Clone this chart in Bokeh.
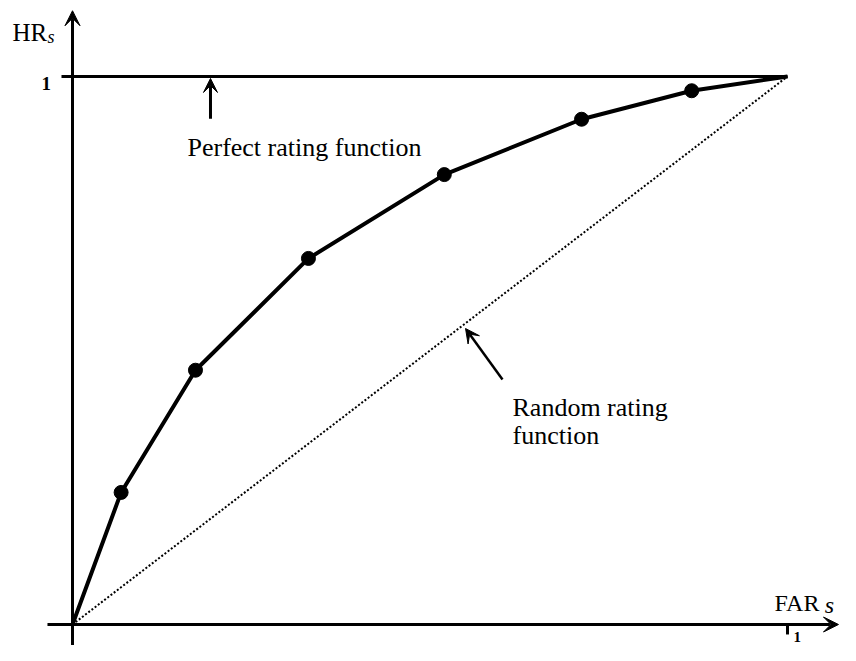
from bokeh.plotting import figure
from bokeh.models import Range1d, Label, Arrow, VeeHead, ColumnDataSource
from bokeh.embed import file_html
from bokeh.resources import INLINE

# ---- data ----
far_s = [0.0, 0.068, 0.172, 0.330, 0.520, 0.712, 0.866, 1.0]
hr_s = [0.0, 0.241, 0.464, 0.668, 0.821, 0.922, 0.974, 1.0]
marker_far = far_s[1:-1]
marker_hr = hr_s[1:-1]
random_x = [0.0, 1.0]
random_y = [0.0, 1.0]
perfect_x = [-0.0154, 1.0]
perfect_y = [1.0, 1.0]
tick_labels = ["1"]
x_label = "FAR"
y_label = "HR"
sub_label = "s"
perfect_text = "Perfect rating function"
random_text = ["Random rating", "function"]

FONT = "Liberation Serif"
W, H = 840, 645
SX, SY = 715.0, 548.0  # pixels per data unit
x0 = -72.0 / SX
y1 = 624.0 / SY

p = figure(width=W, height=H, output_backend="svg", toolbar_location=None,
           x_range=Range1d(x0, x0 + W / SX), y_range=Range1d(y1 - H / SY, y1),
           min_border=0, min_border_left=0, min_border_right=0,
           min_border_top=0, min_border_bottom=0)
p.axis.visible = False
p.grid.visible = False
p.outline_line_color = None
p.background_fill_color = "white"
p.border_fill_color = "white"

# axes with arrow heads
p.add_layout(Arrow(x_start=0, y_start=-0.06, x_end=0, y_end=1.12,
                   line_width=3, line_color="black",
                   end=VeeHead(size=15, fill_color="black", line_color="black", line_width=1)))
p.add_layout(Arrow(x_start=-0.035, y_start=0, x_end=1.0713, y_end=0,
                   line_width=3, line_color="black",
                   end=VeeHead(size=15, fill_color="black", line_color="black", line_width=1)))
# x tick at 1
p.segment(x0=[1.0], y0=[0.0], x1=[1.0], y1=[-0.0182], line_width=3, line_color="black")

# perfect rating function
p.line(perfect_x, perfect_y, line_width=3, line_color="black")
# random rating function
p.line(random_x, random_y, line_width=2, line_color="black", line_dash="2 2")
# ROC curve
src = ColumnDataSource(dict(x=far_s, y=hr_s))
p.line("x", "y", source=src, line_width=4, line_color="black")
p.scatter(marker_far, marker_hr, size=14, fill_color="black", line_color="black")

# annotation arrows
p.add_layout(Arrow(x_start=0.193, y_start=0.923, x_end=0.193, y_end=0.9964,
                   line_width=3, line_color="black",
                   end=VeeHead(size=14, fill_color="black", line_color="black", line_width=1)))
p.add_layout(Arrow(x_start=0.6014, y_start=0.4471, x_end=0.5497, y_end=0.5401,
                   line_width=2.5, line_color="black",
                   end=VeeHead(size=14, fill_color="black", line_color="black", line_width=1)))

def lab(x, y, text, size, style="normal", align="left"):
    p.add_layout(Label(x=x, y=y, text=text, text_font=FONT, text_font_size=size,
                       text_font_style=style, text_align=align,
                       text_baseline="alphabetic", text_color="black"))

lab(0.1608, 0.8704, perfect_text, "26px")
lab(0.6154, 0.396, random_text[0], "26px")
lab(0.6154, 0.3449, random_text[1], "26px")
lab(-0.0839, 1.0803, y_label, "25px")
lab(-0.0350, 1.0712, sub_label, "18px", style="italic")
lab(0.9818, 0.0401, x_label, "24px")
lab(1.0520, 0.0347, sub_label, "24px", style="italic")
lab(-0.0300, 0.987, tick_labels[0], "19px", style="bold", align="right")
lab(1.0084, -0.0219, tick_labels[0], "15px", style="bold", align="left")

open("out.html", "w").write(file_html(p, INLINE))
